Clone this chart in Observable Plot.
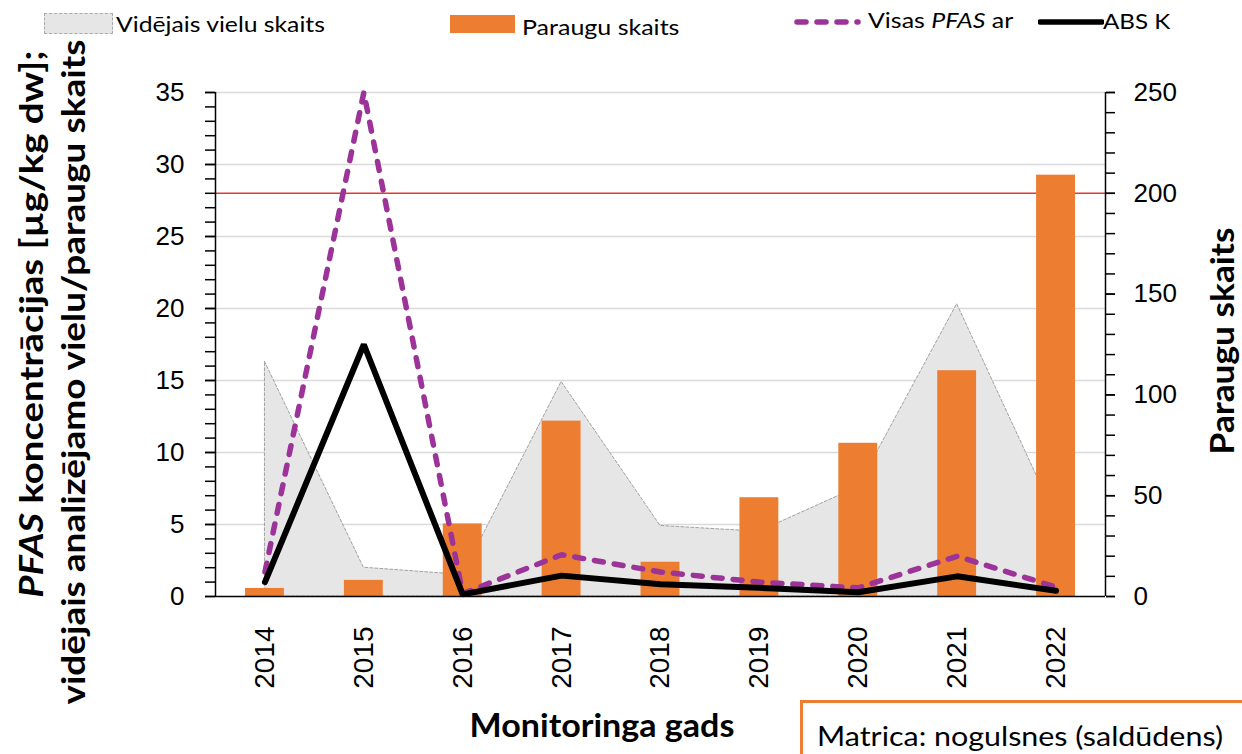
<!DOCTYPE html>
<html>
<head>
<meta charset="utf-8">
<script src="https://cdn.jsdelivr.net/npm/d3@7"></script>
<script src="https://cdn.jsdelivr.net/npm/@observablehq/plot@0.6"></script>
<style>
  html, body { margin: 0; padding: 0; background: #fff; }
  #wrap { position: relative; width: 1242px; height: 754px; overflow: hidden; background: #fff; }
  #wrap svg.plot { position: absolute; left: 0; top: 0; }
  .lab { position: absolute; font-family: Lato, "Open Sans", sans-serif; color: #000; white-space: nowrap; line-height: 1.2; }
  .bold { font-weight: 700; }
</style>
</head>
<body>
<div id="wrap"></div>
<script>
// ---- data ----
const years = [2014, 2015, 2016, 2017, 2018, 2019, 2020, 2021, 2022];
const avgSubstances = [16.3, 2.0, 1.5, 14.9, 4.9, 4.5, 7.6, 20.3, 5.5];   // Vidējais vielu skaits (left axis)
const sampleCounts = [4, 8, 36, 87, 17, 49, 76, 112, 209];                // Paraugu skaits (right axis)
const totalPFAS = [1.7, 35, 0.2, 2.9, 1.7, 1.0, 0.6, 2.8, 0.65];          // Visas PFAS ar
const absK = [1.0, 17.5, 0.15, 1.45, 0.85, 0.6, 0.3, 1.4, 0.4];            // ABS K
const leftTicks = [0, 5, 10, 15, 20, 25, 30, 35];
const rightTicks = [0, 50, 100, 150, 200, 250];
const thresholdLine = [28];
const leftMax = 35, rightMax = 250;

const ratio = leftMax / rightMax;
const data = years.map((year, i) => ({
  year, avg: avgSubstances[i], samples: sampleCounts[i], total: totalPFAS[i], abs: absK[i]
}));

const chart = Plot.plot({
  width: 1242,
  height: 754,
  marginTop: 92,
  marginBottom: 158,
  marginLeft: 215,
  marginRight: 137,
  style: { fontFamily: "'Liberation Sans', Arial, sans-serif", background: "transparent", color: "#000" },
  x: { domain: [2013.5, 2022.5], axis: null },
  y: { domain: [0, leftMax], axis: null },
  marks: [
    Plot.ruleY(leftTicks.filter(t => t > 0), { stroke: "#d9d9d9", strokeWidth: 1.5 }),
    Plot.areaY(data, { x: "year", y: "avg", fill: "#e6e6e6", stroke: "#8c8c8c", strokeWidth: 0.8, strokeDasharray: "3,2" }),
    Plot.ruleY(thresholdLine, { stroke: "#e5392e", strokeWidth: 1.5 }),
    Plot.rectY(data, { x1: d => d.year - 0.5, x2: d => d.year + 0.5, y: d => d.samples * ratio, fill: "#ED7D31", insetLeft: 30, insetRight: 30 }),
    Plot.lineY(data, { x: "year", y: "total", stroke: "#9c3398", strokeWidth: 5.5, strokeDasharray: "9,11", strokeLinecap: "round", strokeLinejoin: "round" }),
    Plot.lineY(data, { x: "year", y: "abs", stroke: "#000", strokeWidth: 6, strokeLinejoin: "miter" }),
    Plot.ruleX([2013.5, 2022.5], { y1: 0, y2: leftMax, stroke: "#000", strokeWidth: 1.5 }),
    Plot.ruleY([0], { stroke: "#000", strokeWidth: 1.5 }),
    Plot.axisY({ anchor: "left", ticks: d3.range(0, leftMax + 1, 1), tickSize: 10, tickFormat: () => "", label: null, strokeWidth: 1.5 }),
    Plot.axisY({ anchor: "left", ticks: leftTicks, tickSize: 10, tickPadding: 21, fontSize: 26, label: null, strokeWidth: 1.5 }),
    Plot.axisY({ anchor: "right", ticks: d3.range(0, rightMax + 1, 10).map(v => v * ratio), tickSize: 9, tickFormat: () => "", label: null, strokeWidth: 1.5 }),
    Plot.axisY({ anchor: "right", ticks: rightTicks.map(v => v * ratio), tickSize: 9, tickPadding: 19, fontSize: 26, label: null, strokeWidth: 1.5,
                 tickFormat: d => String(Math.round(d / ratio)) }),
    Plot.axisX({ ticks: years, tickSize: 0, tickRotate: -90, tickPadding: 30, fontSize: 28, label: null, tickFormat: d => String(d) })
  ]
});
chart.classList.add("plot");
const wrap = document.getElementById("wrap");
wrap.appendChild(chart);

function addHTML(html) { wrap.insertAdjacentHTML("beforeend", html); return wrap.lastElementChild; }

// text placed with its start at (x, centerY), stretched to a target width
function textAt(html, x, cy, size, target, bold) {
  const el = addHTML(`<div class="lab${bold ? " bold" : ""}" style="left:${x}px;top:${cy}px;font-size:${size}px;">${html}</div>`);
  const w = el.offsetWidth;
  const s = target / w;
  el.style.transformOrigin = "0 0";
  el.style.transform = `translateY(-50%) scaleX(${s})`;
  return el;
}
// centred text, optionally rotated, stretched along its length
function textCentered(html, cx, cy, size, target, bold, rotate) {
  const el = addHTML(`<div class="lab${bold ? " bold" : ""}" style="left:${cx}px;top:${cy}px;font-size:${size}px;">${html}</div>`);
  const w = el.offsetWidth;
  const s = target / w;
  el.style.transform = `translate(-50%, -50%)${rotate ? " rotate(-90deg)" : ""} scaleX(${s})`;
  return el;
}

// ---- legend ----
addHTML(`<div style="position:absolute;left:44px;top:13px;width:67px;height:19px;background:#e6e6e6;border:1px dashed #aaa;"></div>`);
textAt("Vidējais vielu skaits", 116, 24, 22, 209, false);
addHTML(`<div style="position:absolute;left:450px;top:15px;width:65px;height:18px;background:#ED7D31;"></div>`);
textAt("Paraugu skaits", 522, 27, 22, 158, false);
addHTML(`<svg style="position:absolute;left:790px;top:12px;" width="75" height="20"><line x1="7" y1="10" x2="68" y2="10" stroke="#9c3398" stroke-width="5.5" stroke-dasharray="9,11" stroke-linecap="round"/></svg>`);
textAt("Visas <i>PFAS</i> ar", 868, 20, 22, 145, false);
addHTML(`<svg style="position:absolute;left:1038px;top:12px;" width="66" height="20"><line x1="2" y1="10" x2="64" y2="10" stroke="#000" stroke-width="5.5" stroke-linecap="round"/></svg>`);
textAt("ABS K", 1103, 21, 22, 67, false);

// ---- axis titles ----
textCentered("<i>PFAS</i> koncentrācijas [µg/kg dw];", 31, 324, 32, 548, true, true);
textCentered("vidējais analizējamo vielu/paraugu skaits", 73, 372, 32, 665, true, true);
textCentered("Paraugu skaits", 1222, 341, 32, 227, true, true);
textCentered("Monitoringa gads", 602, 725, 32, 265, true, false);

// ---- matrix box ----
addHTML(`<div style="position:absolute;left:800px;top:700px;width:500px;height:80px;border:3px solid #ED7D31;box-sizing:border-box;"></div>`);
textAt("Matrica: nogulsnes (saldūdens)", 817, 737, 26, 406, false);
</script>
</body>
</html>
